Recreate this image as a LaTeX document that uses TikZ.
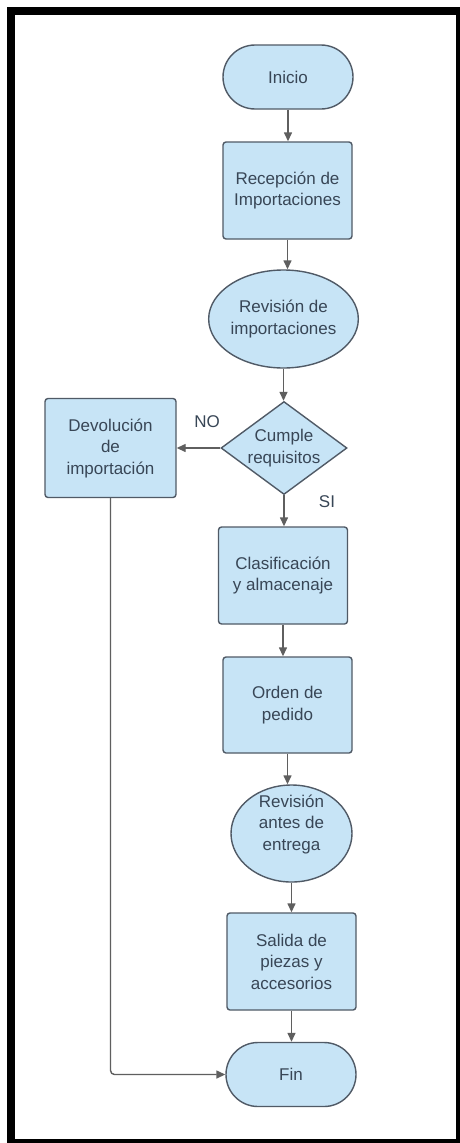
\documentclass[tikz,border=0pt]{standalone}
\usepackage{fontspec}
\setmainfont{Liberation Sans}
\usetikzlibrary{arrows.meta, shapes.geometric, shapes.misc}
\definecolor{boxfill}{RGB}{199,228,246}
\definecolor{boxline}{RGB}{80,90,102}
\definecolor{boxtext}{RGB}{56,70,86}
\definecolor{arrowgray}{RGB}{95,95,95}

\begin{document}
\begin{tikzpicture}[
    x=1pt, y=-1pt,
    base/.style={draw=boxline, fill=boxfill, line width=1.4pt, text=boxtext,
        align=center, inner sep=0pt, font=\fontsize{17}{21.5}\selectfont},
    term/.style={base, rounded rectangle, minimum width=130pt, minimum height=64pt},
    proc/.style={base, rectangle, rounded corners=3pt, minimum width=129pt, minimum height=97pt},
    rev/.style={base, ellipse, minimum width=122pt, minimum height=98pt},
    dec/.style={base, diamond, aspect=1.35, minimum width=126pt, minimum height=93pt},
    flow/.style={draw=arrowgray, line width=1.4pt, -{Triangle[length=9pt, width=8pt]}},
    lbl/.style={text=boxtext, inner sep=0pt, font=\fontsize{17}{21.5}\selectfont}
]

% frame
\useasboundingbox (0,0) rectangle (460,1143);
\fill[black] (7,7) rectangle (460,1143);
\fill[white] (15,15) rectangle (456,1139);

\node[term] (inicio) at (288,77) {Inicio};
\node[proc] (recep) at (287.5,190.5) {Recepción de\\Importaciones};
\node[rev] (revimp) at (283.5,319) {Revisión de\\importaciones};
\node[dec] (cumple) at (284,448) {Cumple\\requisitos};
\node[proc, minimum width=131pt, minimum height=99pt] (devol) at (110.5,448) {Devolución\\de\\importación};
\node[proc] (clasif) at (283,575.5) {Clasificación\\y almacenaje};
\node[proc, minimum height=96pt] (orden) at (287.5,705) {Orden de\\pedido};
\node[rev, minimum width=121pt, minimum height=97pt] (revent) at (291.5,833.5) {};
\node[lbl, align=center] (reventtxt) at (291.5,824) {Revisión\\antes de\\entrega};
\node[proc] (salida) at (291.5,961.5) {Salida de\\piezas y\\accesorios};
\node[term] (fin) at (291,1074.5) {Fin};

\node[lbl] (no) at (207,422) {NO};
\node[lbl] (si) at (327,502) {SI};

% connectors
\draw[flow] (inicio.south) -- (inicio.south |- recep.north);
\draw[flow] (recep.south) -- (recep.south |- revimp.north);
\draw[flow] (revimp.south) -- (revimp.south |- cumple.north);
\draw[flow] (cumple.west) -- (devol.east);
\draw[flow] (cumple.south) -- (cumple.south |- clasif.north);
\draw[flow] (clasif.south) -- (clasif.south |- orden.north);
\draw[flow] (orden.south) -- (orden.south |- revent.north);
\draw[flow] (revent.south) -- (revent.south |- salida.north);
\draw[flow] (salida.south) -- (salida.south |- fin.north);
\draw[flow, rounded corners=4pt] (devol.south) |- (fin.west);

\end{tikzpicture}
\end{document}
